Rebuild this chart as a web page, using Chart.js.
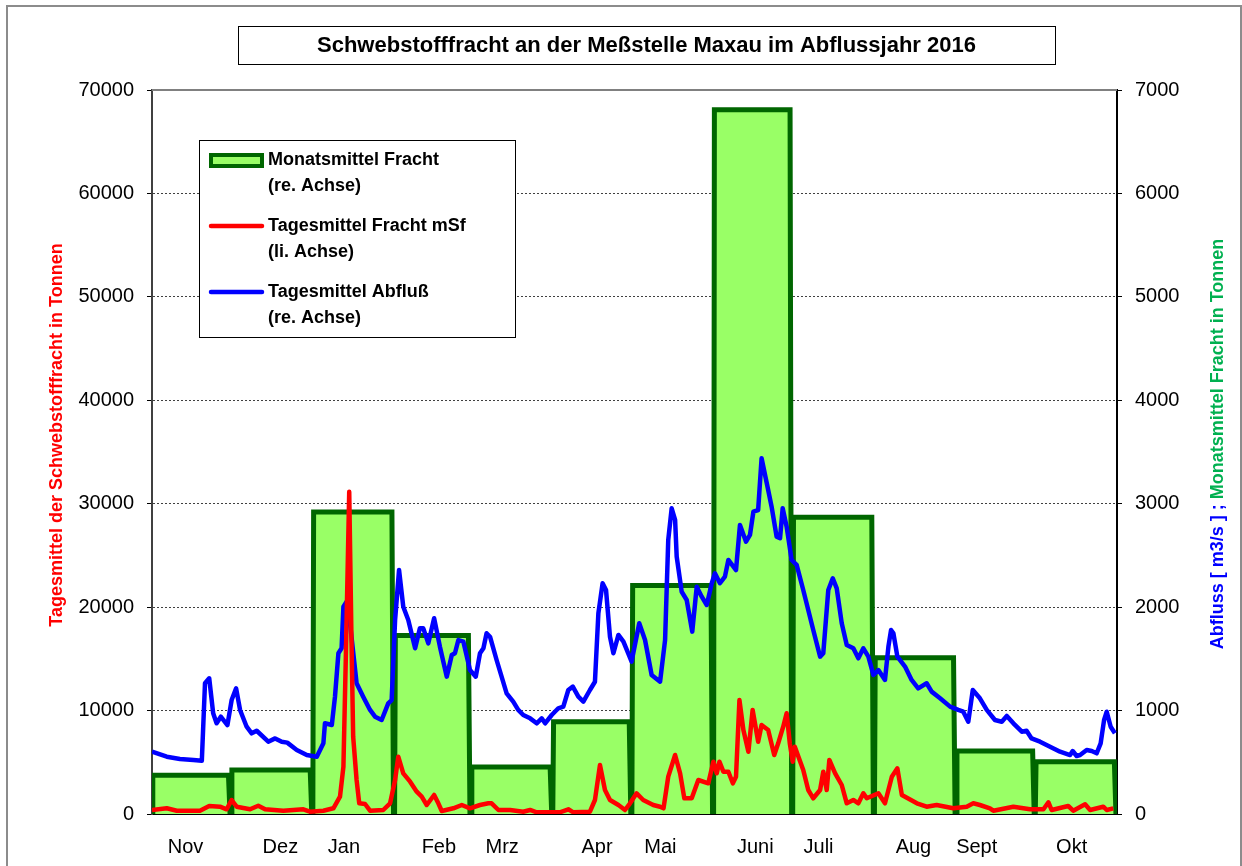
<!DOCTYPE html>
<html><head><meta charset="utf-8">
<script src="https://cdn.jsdelivr.net/npm/chart.js@4.4.1/dist/chart.umd.min.js"></script>
<style>html,body{margin:0;padding:0;background:#fff;}#wrap{width:1242px;height:866px;}</style>
</head><body><div id="wrap"><canvas id="c" width="1242" height="866"></canvas></div>
<script>
const chartTitle = 'Schwebstofffracht an der Meßstelle Maxau im Abflussjahr 2016';
const monthLabels = ['Nov','Dez','Jan','Feb','Mrz','Apr','Mai','Juni','Juli','Aug','Sept','Okt'];
const monthLabelDays = [12.7,48.7,72.8,108.8,132.8,168.8,192.8,228.8,252.8,288.8,312.8,348.8];
const monthBounds = [0,30,61,92,121,152,182,213,243,274,305,335,366];
const monthlyLoad = [375,425,2920,1725,455,892,2210,6810,2870,1510,610,506];
const flowDays = [0,5.6,10.6,15.7,18.9,20.1,21.7,23.2,24.5,26.1,28.6,30.2,31.9,33.4,35.9,37.8,39.7,44.1,46.7,49.2,51.3,54.9,58.7,62.5,65.0,65.6,68.2,69.4,70.7,71.9,72.6,73.8,75.1,77.6,80.1,82.7,84.6,87.1,89.6,90.9,92.2,93.7,95.3,97.2,99.8,101.6,102.9,104.8,107.0,109.2,111.8,113.7,114.9,116.2,118.1,120.6,122.8,124.4,125.7,126.9,128.2,130.7,134.5,137.0,138.9,140.8,143.4,145.9,147.8,149.1,151.6,154.1,156.0,157.9,159.6,161.7,163.6,166.1,168.0,169.3,170.9,172.2,173.7,175.0,176.9,178.8,181.9,184.8,187.0,189.5,192.7,194.6,195.8,197.1,198.4,199.0,200.9,202.8,204.9,206.6,208.5,210.4,212.3,213.5,215.4,217.3,218.6,221.5,223.0,225.3,226.8,228.1,229.9,231.2,233.7,235.0,236.9,238.2,239.2,240.7,242.6,244.5,247.0,250.8,253.4,254.6,256.5,258.2,259.7,261.6,263.5,266.0,267.9,269.8,271.7,273.6,275.5,278.0,279.3,280.3,281.2,282.7,285.6,288.1,290.6,293.8,295.7,298.9,302.7,305.8,307.7,309.6,311.3,314.0,316.6,319.7,322.3,324.2,326.7,329.9,331.7,333.6,336.8,340.6,344.4,348.2,349.2,350.7,352.0,354.5,356.4,358.3,359.8,361.1,362.1,363.6,365.2];
const flowValues = [602,554,532,522,515,1264,1312,974,877,941,860,1102,1215,1006,844,780,805,699,731,699,690,619,570,554,683,877,860,1134,1554,1602,2004,2053,1844,1264,1134,1006,941,909,1070,1102,1876,2359,2004,1876,1602,1795,1795,1650,1892,1618,1328,1537,1554,1682,1666,1392,1328,1554,1602,1747,1714,1489,1167,1086,1006,957,925,877,925,877,957,1022,1038,1199,1231,1134,1086,1199,1279,1941,2231,2166,1714,1554,1731,1666,1473,1844,1682,1344,1279,1682,2649,2956,2843,2488,2149,2069,1763,2198,2101,2021,2231,2327,2231,2295,2456,2359,2794,2633,2698,2923,2939,3439,3133,2971,2681,2666,2956,2778,2456,2408,2166,1779,1521,1554,2166,2279,2182,1844,1634,1602,1505,1602,1521,1344,1392,1296,1618,1779,1747,1521,1425,1296,1215,1264,1183,1119,1038,1006,989,892,1199,1119,1006,909,892,948,877,796,805,731,699,651,602,570,609,561,570,619,609,587,683,909,989,844,780];
const loadDays = [0,5.6,9.4,18.2,21.7,25.8,28.3,30.2,32.1,37.2,40.3,42.9,49.8,57.4,59.9,65.0,68.8,71.3,72.6,73.6,74.8,75.7,76.3,77.6,78.6,80.8,82.7,87.7,90.3,92.2,93.4,95.3,97.9,100.4,102.3,104.2,107.0,108.6,109.9,114.3,117.5,120.6,124.4,127.6,128.8,131.4,135.8,140.8,143.4,145.9,154.7,157.9,159.8,166.1,168.0,169.9,171.8,173.7,176.9,179.4,181.3,183.8,186.3,190.1,192.7,194.0,195.8,198.4,200.3,201.9,204.7,207.2,211.0,212.9,214.2,215.2,216.7,218.6,220.3,221.5,222.8,224.3,226.2,227.8,229.9,231.2,233.7,236.0,237.5,239.4,240.7,241.9,243.0,243.8,247.0,248.9,250.8,253.4,254.6,255.9,256.9,259.1,261.6,263.5,266.0,267.9,269.8,271.1,275.5,278.0,280.6,282.7,284.4,290.1,293.8,297.6,303.9,309.0,311.5,314.0,317.8,319.1,326.7,333.0,338.1,340.0,341.2,347.5,349.4,353.9,355.8,360.8,362.1,364.6];
const loadValues = [387,550,320,320,774,706,455,1354,706,455,803,455,320,455,222,320,550,1673,4573,16175,31163,16175,7474,3287,1035,967,320,387,1035,3287,5540,3935,3123,2156,1673,870,1837,1035,290,550,870,550,870,1035,1035,387,387,222,387,164,164,455,164,222,1354,4738,2321,1354,870,387,1035,2001,1354,870,706,550,3607,5705,3935,1518,1518,3287,2968,5057,3935,5057,4090,4090,2968,3607,11023,8122,6024,10056,6991,8605,8122,5705,6836,8441,9737,6836,5057,6507,4254,2321,1518,2321,4090,2321,5221,3935,2804,1035,1354,1035,2001,1518,2001,1035,3607,4418,1837,1035,706,870,550,706,1035,870,550,320,706,455,455,1131,387,774,320,938,387,706,387,550];
const legendEntries = [['Monatsmittel Fracht','(re. Achse)'],['Tagesmittel Fracht mSf','(li. Achse)'],['Tagesmittel Abfluß','(re. Achse)']];
const leftAxisTitle = 'Tagesmittel der Schwebstofffracht in Tonnen';
const rightAxisTitleA = 'Abfluss [ m3/s ] ; ';
const rightAxisTitleB = 'Monatsmittel Fracht in Tonnen';

const FONT = '"Liberation Sans", Arial, Helvetica, sans-serif';

// monthly area outline built from month bounds and values
const monthPoints = [];
monthlyLoad.forEach((v, i) => {
  const s = monthBounds[i], e = monthBounds[i + 1];
  monthPoints.push({x: s, y: 0}, {x: s + 0.3, y: v}, {x: e - 1, y: v}, {x: e - 0.4, y: 0});
});
const flowPoints = flowDays.map((d, i) => ({x: d, y: flowValues[i]}));
const loadPoints = loadDays.map((d, i) => ({x: d, y: loadValues[i]}));

const decor = {
  id: 'decor',
  beforeDraw(chart) {
    const ctx = chart.ctx;
    ctx.save();
    ctx.fillStyle = '#fff';
    ctx.fillRect(0, 0, chart.width, chart.height);
    ctx.restore();
  },
  afterDraw(chart) {
    const ctx = chart.ctx;
    const ca = chart.chartArea;
    ctx.save();
    ctx.strokeStyle = '#808080'; ctx.lineWidth = 2;
    ctx.beginPath(); ctx.moveTo(ca.left, ca.top); ctx.lineTo(ca.right, ca.top); ctx.stroke();
    ctx.strokeStyle = '#8c8c8c'; ctx.lineWidth = 2;
    ctx.strokeRect(7, 6, 1234, 880);
    ctx.fillStyle = '#fff'; ctx.fillRect(238, 26, 817, 38);
    ctx.strokeStyle = '#000'; ctx.lineWidth = 1;
    ctx.strokeRect(238.5, 26.5, 817, 38);
    ctx.fillStyle = '#000';
    ctx.font = 'bold 22px ' + FONT;
    ctx.textAlign = 'center'; ctx.textBaseline = 'middle';
    ctx.fillText(chartTitle, 646.5, 46);
    ctx.fillStyle = '#fff'; ctx.fillRect(199, 140, 316, 197);
    ctx.strokeStyle = '#000'; ctx.lineWidth = 1;
    ctx.strokeRect(199.5, 140.5, 316, 197);
    ctx.fillStyle = '#006600'; ctx.fillRect(209, 153, 55, 15);
    ctx.fillStyle = '#99ff66'; ctx.fillRect(213, 157, 47, 7);
    ctx.lineCap = 'round'; ctx.lineWidth = 4.5;
    ctx.strokeStyle = '#ff0000';
    ctx.beginPath(); ctx.moveTo(211, 226); ctx.lineTo(262, 226); ctx.stroke();
    ctx.strokeStyle = '#0000ff';
    ctx.beginPath(); ctx.moveTo(211, 292); ctx.lineTo(262, 292); ctx.stroke();
    ctx.fillStyle = '#000';
    ctx.font = 'bold 18px ' + FONT;
    ctx.textAlign = 'left'; ctx.textBaseline = 'middle';
    const rows = [160, 226, 292];
    legendEntries.forEach((e, i) => {
      ctx.fillText(e[0], 268, rows[i]);
      ctx.fillText(e[1], 268, rows[i] + 26);
    });
    ctx.save();
    ctx.translate(57, 435); ctx.rotate(-Math.PI / 2);
    ctx.fillStyle = '#ff0000'; ctx.font = 'bold 18px ' + FONT;
    ctx.textAlign = 'center'; ctx.textBaseline = 'middle';
    ctx.fillText(leftAxisTitle, 0, 0);
    ctx.restore();
    ctx.save();
    ctx.translate(1218, 444); ctx.rotate(-Math.PI / 2);
    ctx.font = 'bold 18px ' + FONT;
    ctx.textAlign = 'left'; ctx.textBaseline = 'middle';
    const wa = ctx.measureText(rightAxisTitleA).width, wb = ctx.measureText(rightAxisTitleB).width;
    const x0 = -(wa + wb) / 2;
    ctx.fillStyle = '#0000ff'; ctx.fillText(rightAxisTitleA, x0, 0);
    ctx.fillStyle = '#00b050'; ctx.fillText(rightAxisTitleB, x0 + wa, 0);
    ctx.restore();
    ctx.restore();
  }
};

new Chart(document.getElementById('c'), {
  type: 'line',
  data: {
    datasets: [
      {label: 'Tagesmittel Fracht mSf', data: loadPoints, yAxisID: 'y', borderColor: '#ff0000', borderWidth: 4.5, pointRadius: 0, tension: 0, fill: false, order: 0, borderJoinStyle: 'round'},
      {label: 'Tagesmittel Abfluß', data: flowPoints, yAxisID: 'y1', borderColor: '#0000ff', borderWidth: 4.5, pointRadius: 0, tension: 0, fill: false, order: 1, borderJoinStyle: 'round'},
      {label: 'Monatsmittel Fracht', data: monthPoints, yAxisID: 'y1', borderColor: '#006600', backgroundColor: '#99ff66', borderWidth: 5, pointRadius: 0, tension: 0, fill: 'origin', order: 2, borderJoinStyle: 'miter'}
    ]
  },
  options: {
    responsive: false, animation: false, devicePixelRatio: 1,
    layout: {padding: {top: 90, left: 0, right: 0, bottom: 0}},
    plugins: {legend: {display: false}, title: {display: false}, tooltip: {enabled: false}},
    scales: {
      x: {
        type: 'linear', min: 0, max: 366,
        afterBuildTicks: s => { s.ticks = monthLabelDays.map(v => ({value: v})); },
        afterFit: s => { s.height = 52; },
        ticks: {autoSkip: false, maxRotation: 0, minRotation: 0, padding: 21, color: '#000', font: {family: FONT, size: 20},
          callback: (v, i) => monthLabels[i]},
        grid: {display: false, drawTicks: false},
        border: {display: true, color: '#000', width: 2}
      },
      y: {
        position: 'left', min: 0, max: 70000,
        afterFit: s => { s.width = 152; },
        ticks: {stepSize: 10000, padding: 13, color: '#000', font: {family: FONT, size: 20}, callback: v => String(v)},
        grid: {color: '#404040', lineWidth: 1, tickBorderDash: [], tickColor: '#000', tickLength: 5, drawTicks: true},
        border: {display: true, color: '#404040', width: 2, dash: [2, 2]}
      },
      y1: {
        position: 'right', min: 0, max: 7000,
        afterFit: s => { s.width = 125; },
        ticks: {stepSize: 1000, padding: 13, color: '#000', font: {family: FONT, size: 20}, callback: v => String(v)},
        grid: {drawOnChartArea: false, tickColor: '#000', tickLength: 5, drawTicks: true},
        border: {display: true, color: '#000', width: 2}
      }
    }
  },
  plugins: [decor]
});
</script>
</body></html>
